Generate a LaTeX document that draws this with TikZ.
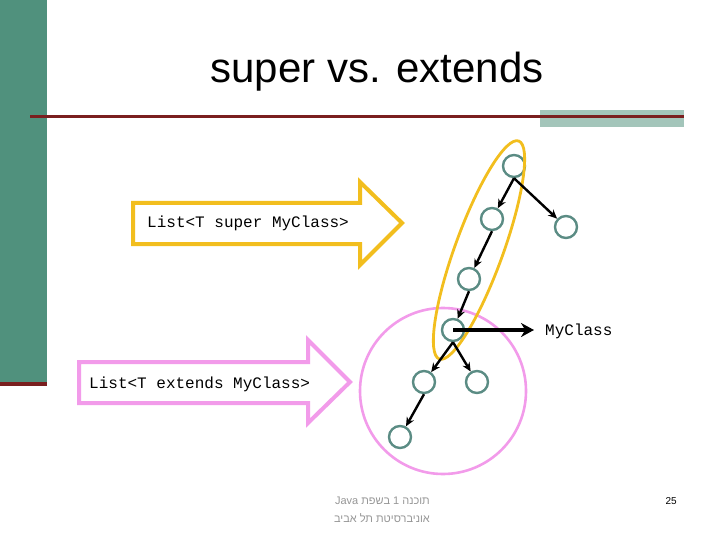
\documentclass[tikz,border=0pt]{standalone}
\usepackage{fontspec}
\setmainfont{Liberation Sans}
\setmonofont{Liberation Mono}
\newfontfamily\hebfont[Script=Hebrew]{Liberation Sans}
\TeXXeTstate=1
\usepackage{tikz}
\usetikzlibrary{arrows.meta}

\definecolor{barc}{RGB}{80,145,125}
\definecolor{redc}{RGB}{122,31,31}
\definecolor{greyc}{RGB}{163,197,186}
\definecolor{yellowc}{RGB}{242,190,30}
\definecolor{pinkc}{RGB}{242,155,234}
\definecolor{tealc}{RGB}{91,140,132}
\definecolor{footc}{RGB}{150,150,150}

\begin{document}
\begin{tikzpicture}[x=1pt,y=-1pt,
	vert/.style={circle,draw=tealc,line width=2.4pt,minimum size=22pt,inner sep=0pt},
	edge/.style={-{Stealth[length=9pt,width=8pt]},line width=2.4pt},
	bigarrow/.style={line width=4pt,line join=miter,fill=white},
	code/.style={font=\ttfamily\fontsize{16}{18}\selectfont,inner sep=0pt}]
       
       \useasboundingbox (0,0) rectangle (720,540);
       
       %标题
       \fill[barc] (0,0) rectangle (47,382);
       \fill[redc] (0,382) rectangle (47,386);
       \fill[greyc] (540,110) rectangle (684,127);
       \draw[redc,line width=3pt] (30,117) -- (684,117);
       \node (title) at (377,83) [anchor=base,inner sep=0pt,font=\fontsize{42}{48}\selectfont]{super vs. extends};
       
       %两个箭头
       \draw[bigarrow,draw=yellowc] (133,203) -- (360,203) -- (360,182) -- (402,223)
       -- (360,265) -- (360,244) -- (133,244) -- cycle;
       \node (superlbl) at (147,228) [code,anchor=base west]{List<T super MyClass>};
       
       \draw[bigarrow,draw=pinkc] (79,362) -- (308,362) -- (308,340) -- (350,382)
       -- (308,423) -- (308,403) -- (79,403) -- cycle;
       \node (extlbl) at (89,388) [code,anchor=base west]{List<T extends MyClass>};
       
       %树
       \draw[pinkc,line width=2.6pt] (443,391) circle[radius=83];
       
       \foreach \n/\x/\y in {n1/514/166,n2/492/219,n3/566/227,n4/469/279,
       	n5/453/330,n6/424/382,n7/477/382,n8/400/437}  {
       	\node[vert] (\n) at (\x,\y) {};
       }
       
       \draw[yellowc,line width=2.8pt,rotate around={70:(479,250)}] (479,250)
       ellipse [x radius=116,y radius=24];
       
       \foreach \a/\b in {n1/n2,n1/n3,n2/n4,n4/n5,n5/n6,n5/n7,n6/n8}  {
       	\draw[edge] (\a.south) -- (\b);
       }
       
       \coordinate (tip) at (534,330);
       \draw[-{Stealth[length=13pt,width=14pt]},line width=3.8pt] (n5.center) -- (tip);
       \node (cls) at (545,335) [code,anchor=base west]{MyClass};
       
       %页脚
       \node (foot1) at (430,504) [anchor=base east,inner sep=0pt,text=footc,font=\hebfont\fontsize{11}{13}\selectfont]
       {\beginR תוכנה 1 בשפת \beginL Java\endL\endR};
       \node (foot2) at (430,522) [anchor=base east,inner sep=0pt,text=footc,font=\hebfont\fontsize{11}{13}\selectfont]
       {\beginR אוניברסיטת תל אביב\endR};
       \node (page) at (677,504) [anchor=base east,inner sep=0pt,font=\fontsize{10}{12}\selectfont]{25};
       
\end{tikzpicture}
\end{document}
